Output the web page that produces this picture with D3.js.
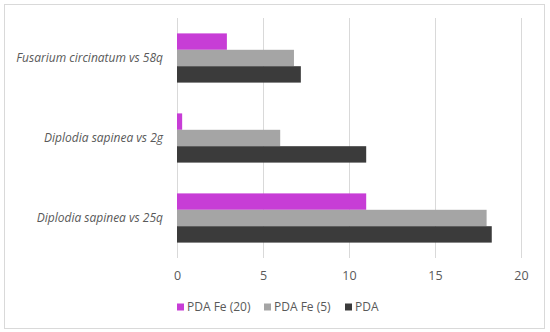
<!DOCTYPE html>
<html lang="en">
<head>
    <meta charset="UTF-8">
    <title>Bar chart</title>
    <script src="https://cdn.jsdelivr.net/npm/d3@7/dist/d3.min.js"></script>
    <style>
        body { margin: 0; background: #fff; }
        #chart { width: 550px; height: 332px; }
        text { font-family: "Open Sans", "Liberation Sans", sans-serif; fill: #595959; }
    </style>
</head>
<body>
    <div id="chart"></div>

    <script>
        // categories from top to bottom
        const categories = ["Fusarium circinatum vs 58q", "Diplodia sapinea vs 2g", "Diplodia sapinea vs 25q"];
        const seriesNames = ["PDA Fe (20)", "PDA Fe (5)", "PDA"];
        const pdaFe20 = [2.9, 0.3, 11.0];
        const pdaFe5 = [6.8, 6.0, 18.0];
        const pda = [7.2, 11.0, 18.3];
        const xTicks = [0, 5, 10, 15, 20];
        const colors = ["#c73dd6", "#a5a5a5", "#3b3b3b"];

        const seriesValues = [pdaFe20, pdaFe5, pda];
        const width = 550, height = 332;
        const margin = { top: 18, right: 29, bottom: 74, left: 177 };

        const svg = d3.select("#chart")
            .append("svg")
            .attr("width", width)
            .attr("height", height);

        // chart border
        svg.append("rect")
            .attr("x", 4.5).attr("y", 4.5)
            .attr("width", 540).attr("height", 324)
            .attr("fill", "none")
            .attr("stroke", "#d9d9d9");

        const x = d3.scaleLinear()
            .domain([0, 20])
            .range([margin.left, width - margin.right]);

        const y0 = d3.scaleBand()
            .domain(categories)
            .range([margin.top, height - margin.bottom])
            .paddingInner(0.385)
            .paddingOuter(0.1925);

        const y1 = d3.scaleBand()
            .domain(seriesNames)
            .range([0, y0.bandwidth()]);

        // gridlines
        svg.append("g")
            .selectAll("line")
            .data(xTicks)
            .join("line")
            .attr("x1", d => Math.round(x(d)) + 0.5)
            .attr("x2", d => Math.round(x(d)) + 0.5)
            .attr("y1", margin.top)
            .attr("y2", height - margin.bottom)
            .attr("stroke", "#d9d9d9")
            .attr("stroke-width", 1);

        // bars
        const rows = categories.map((c, i) => ({
            cat: c,
            vals: seriesNames.map((s, j) => ({ name: s, value: seriesValues[j][i], color: colors[j] }))
        }));

        svg.append("g")
            .selectAll("g")
            .data(rows)
            .join("g")
            .attr("transform", d => `translate(0,${y0(d.cat)})`)
            .selectAll("rect")
            .data(d => d.vals)
            .join("rect")
            .attr("x", x(0))
            .attr("y", d => y1(d.name))
            .attr("width", d => x(d.value) - x(0))
            .attr("height", y1.bandwidth())
            .attr("fill", d => d.color);

        // category labels
        svg.append("g")
            .selectAll("text")
            .data(categories)
            .join("text")
            .attr("x", x(0) - 14)
            .attr("y", d => y0(d) + y0.bandwidth() / 2)
            .attr("dy", "0.35em")
            .attr("text-anchor", "end")
            .attr("font-style", "italic")
            .attr("font-size", 12)
            .text(d => d);

        // x axis tick labels
        const xAxis = d3.axisBottom(x)
            .tickValues(xTicks)
            .tickSize(0)
            .tickPadding(13);

        svg.append("g")
            .attr("transform", `translate(0,${height - margin.bottom})`)
            .call(xAxis)
            .call(g => g.select(".domain").remove())
            .call(g => g.selectAll("text")
                .attr("font-size", 12.5)
                .attr("font-family", null)
                .attr("fill", "#595959"));

        // legend
        const legendX = [177, 264, 345];
        const legend = svg.append("g")
            .selectAll("g")
            .data(seriesNames)
            .join("g")
            .attr("transform", (d, i) => `translate(${legendX[i]},307)`);

        legend.append("rect")
            .attr("x", 0).attr("y", -3.5)
            .attr("width", 7).attr("height", 7)
            .attr("fill", (d, i) => colors[i]);

        legend.append("text")
            .attr("x", 10)
            .attr("dy", "0.35em")
            .attr("font-size", 12)
            .text(d => d);
    </script>
</body>
</html>
